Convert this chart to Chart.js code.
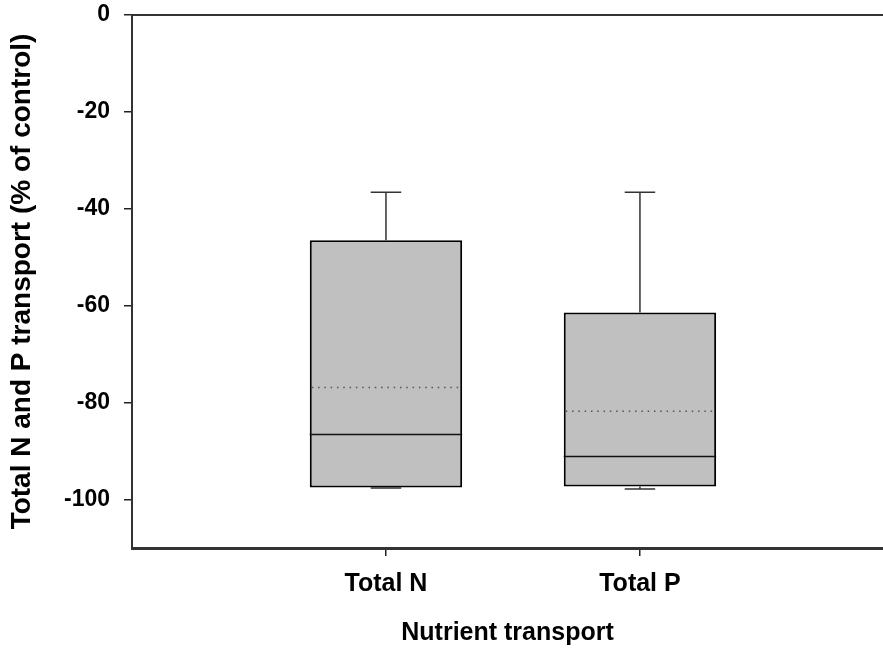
<!DOCTYPE html>
<html><head><meta charset="utf-8">
<script src="https://cdn.jsdelivr.net/npm/chart.js@4"></script>
<style>html,body{margin:0;padding:0;background:#fff}#wrap{width:883px;height:653px}</style>
</head><body><div id="wrap"><canvas id="c" width="883" height="653"></canvas></div>
<script>
// ---- data ----
const categories = ['Total N', 'Total P'];
const categoryPositions = [1, 2];
const whiskerLow = [-97.6, -97.8];
const q1 = [-97.5, -97.3];
const median = [-86.6, -91.1];
const mean = [-76.9, -81.8];
const q3 = [-46.5, -61.4];
const whiskerHigh = [-36.6, -36.6];
const yTickValues = [0, -20, -40, -60, -80, -100];

const FONT = 'Arial, "Liberation Sans", sans-serif';
const CAP_WIDTH = 0.12; // in x-axis units

const boxExtras = {
  id: 'boxExtras',
  afterDatasetsDraw(chart) {
    const {ctx, scales: {x, y}} = chart;
    const meta = chart.getDatasetMeta(0);
    ctx.save();
    meta.data.forEach((bar, i) => {
      const cx = x.getPixelForValue(categoryPositions[i]);
      const half = bar.width / 2;
      const capHalf = (x.getPixelForValue(CAP_WIDTH) - x.getPixelForValue(0)) / 2;
      // whiskers
      ctx.strokeStyle = '#333';
      ctx.lineWidth = 1.5;
      ctx.setLineDash([]);
      ctx.beginPath();
      ctx.moveTo(cx, y.getPixelForValue(q3[i]));
      ctx.lineTo(cx, y.getPixelForValue(whiskerHigh[i]));
      ctx.moveTo(cx - capHalf, y.getPixelForValue(whiskerHigh[i]));
      ctx.lineTo(cx + capHalf, y.getPixelForValue(whiskerHigh[i]));
      ctx.moveTo(cx, y.getPixelForValue(q1[i]));
      ctx.lineTo(cx, y.getPixelForValue(whiskerLow[i]));
      ctx.moveTo(cx - capHalf, y.getPixelForValue(whiskerLow[i]));
      ctx.lineTo(cx + capHalf, y.getPixelForValue(whiskerLow[i]));
      ctx.stroke();
      // median
      ctx.strokeStyle = '#111';
      ctx.lineWidth = 1.5;
      ctx.beginPath();
      ctx.moveTo(cx - half, y.getPixelForValue(median[i]));
      ctx.lineTo(cx + half, y.getPixelForValue(median[i]));
      ctx.stroke();
      // mean (dotted)
      ctx.strokeStyle = '#555';
      ctx.lineWidth = 1.5;
      ctx.setLineDash([1.5, 4.8]);
      ctx.beginPath();
      ctx.moveTo(cx - half + 2, y.getPixelForValue(mean[i]));
      ctx.lineTo(cx + half, y.getPixelForValue(mean[i]));
      ctx.stroke();
      ctx.setLineDash([]);
    });
    // top frame line
    const a = chart.chartArea;
    ctx.strokeStyle = '#333';
    ctx.lineWidth = 2;
    ctx.beginPath();
    ctx.moveTo(a.left, a.top);
    ctx.lineTo(a.right, a.top);
    ctx.stroke();
    ctx.restore();
  }
};

new Chart(document.getElementById('c'), {
  type: 'bar',
  data: {
    datasets: [{
      data: categoryPositions.map((p, i) => ({x: p, y: [q1[i], q3[i]]})),
      backgroundColor: '#c0c0c0',
      borderColor: '#000',
      borderWidth: 2,
      borderSkipped: false,
      categoryPercentage: 0.8,
      barPercentage: 0.75
    }]
  },
  options: {
    responsive: false,
    animation: false,
    layout: {padding: {top: 15, right: 0, left: 0, bottom: 0}},
    plugins: {legend: {display: false}, tooltip: {enabled: false}},
    scales: {
      x: {
        type: 'linear',
        offset: false,
        min: 0,
        max: 2.957,
        afterBuildTicks: s => { s.ticks = categoryPositions.map(v => ({value: v})); },
        afterFit: s => { s.height = 105; s.paddingLeft = 0; s.paddingRight = 0; },
        ticks: {
          autoSkip: false,
          maxRotation: 0,
          padding: 13,
          color: '#000',
          font: {family: FONT, size: 25, weight: 'bold'},
          callback: v => categories[categoryPositions.indexOf(v)] ?? ''
        },
        grid: {offset: false, drawOnChartArea: false, drawTicks: true, tickLength: 8, color: '#222', lineWidth: 1.5},
        border: {display: true, color: '#333', width: 3},
        title: {
          display: true,
          text: 'Nutrient transport',
          color: '#000',
          font: {family: FONT, size: 25, weight: 'bold'},
          padding: {top: 0, bottom: 5}
        }
      },
      y: {
        min: -110,
        max: 0,
        afterBuildTicks: s => { s.ticks = yTickValues.map(v => ({value: v})); },
        afterFit: s => { s.width = 132; s.paddingTop = 0; s.paddingBottom = 0; },
        ticks: {
          padding: 14,
          color: '#000',
          font: {family: FONT, size: 23, weight: 'bold'}
        },
        grid: {drawOnChartArea: false, drawTicks: true, tickLength: 8, color: '#222', lineWidth: 1.5},
        border: {display: true, color: '#333', width: 2},
        title: {
          display: true,
          text: 'Total N and P transport (% of control)',
          color: '#000',
          font: {family: FONT, size: 28, weight: 'bold'},
          padding: {top: 5, bottom: 0}
        }
      }
    }
  },
  plugins: [boxExtras]
});
</script></body></html>
